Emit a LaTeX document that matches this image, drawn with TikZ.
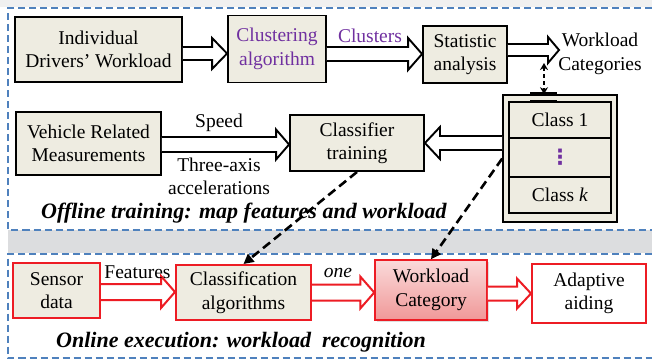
\documentclass[tikz,border=0pt]{standalone}
\usepackage{fontspec}
\setmainfont{Liberation Serif}
\newfontfamily\dejavu{DejaVu Sans}
\usetikzlibrary{calc,arrows.meta,shadows}
\definecolor{boxfill}{RGB}{238,236,225}
\definecolor{dblue}{RGB}{79,129,189}
\definecolor{myred}{RGB}{237,28,36}
\definecolor{mypurple}{RGB}{112,48,160}
\definecolor{bandgray}{RGB}{220,221,223}
\newcommand{\fatarrow}[6]{\draw[#1] let \p1=(#2), \p2=(#3) in ({\x1},{\y1+#4}) -- ({\x2-(#6)},{\y1+#4}) -- ({\x2-(#6)},{\y1+#5}) -- ({\x2},{\y1}) -- ({\x2-(#6)},{\y1-#5}) -- ({\x2-(#6)},{\y1-#4}) -- ({\x1},{\y1-#4});}
\begin{document}
\begin{tikzpicture}[x=1pt,y=-1pt,
  txt/.style={font=\fontsize{19.5}{23.5}\selectfont, inner sep=0pt},
  bbox/.style={txt, draw=black, line width=1.9pt, fill=boxfill, align=center},
  rbox/.style={txt, draw=myred, line width=2pt, align=center},
  frame/.style={draw=dblue, line width=2pt, dash pattern=on 7pt off 4pt},
  fatblack/.style={draw=black, line width=1.9pt, fill=white, line join=miter},
  fatred/.style={draw=myred, line width=2pt, fill=white, line join=miter},
  dasharrow/.style={draw=black, line width=2.6pt, dash pattern=on 9pt off 5pt, -{Triangle[length=10pt,width=10pt]}},
  title/.style={font=\fontsize{22}{26}\selectfont\bfseries\itshape, inner sep=0pt, anchor=base west}
]
\useasboundingbox (0,0) rectangle (652,360);
\fill[white] (0,0) rectangle (652,360);
\fill[gray!12] (0,0) rectangle (652,7);
% band
\fill[bandgray] (8,230) rectangle (652,253);
\draw[frame] (652,8) -- (8,8) -- (8,229.5) -- (652,229.5);
\draw[frame] (652,253.5) -- (8,253.5) -- (8,358) -- (652,358);

% top row
\node[bbox, minimum width=167pt, minimum height=65pt] (drivers) at (98.5,49.5) {Individual\\Drivers' Workload};
\node[bbox, minimum width=98pt, minimum height=67pt, text=mypurple] (clust) at (277,49) {Clustering\\algorithm};
\node[bbox, minimum width=84pt, minimum height=57pt] (stat) at (465,54.5) {Statistic\\analysis};
\node[txt, align=center] (wc) at (600,54) {Workload\\Categories};
\coordinate (wctip) at (559,50);

% classes
\node[draw=black, line width=1.6pt, fill=boxfill, minimum width=114pt, minimum height=127pt, inner sep=0pt] (classes) at (560,158.5) {};
\node[bbox, minimum width=102pt, minimum height=36pt] (c1) at (560,120) {Class 1};
\node[bbox, minimum width=102pt, minimum height=39pt, text=mypurple, font=\dejavu\bfseries\fontsize{21}{21}\selectfont] (c2) at (560,157.5) {⋮};
\node[bbox, minimum width=102pt, minimum height=36pt] (c3) at (560,195) {Class \textit{k}};
\draw[line width=3.5pt] ([xshift=-30pt]classes.north) -- ([xshift=-3pt]classes.north);
\draw[line width=3pt] ([xshift=-30pt]c1.north) -- ([xshift=-3pt]c1.north);

% middle row
\node[bbox, minimum width=145pt, minimum height=63pt] (vehicle) at (88.5,143.5) {Vehicle Related\\Measurements};
\node[bbox, minimum width=134pt, minimum height=56pt] (classifier) at (357,143) {Classifier\\training};

% bottom row
\node[rbox, fill=boxfill, minimum width=87pt, minimum height=55pt] (sensor) at (56.5,290.5) {Sensor\\data};
\node[rbox, fill=boxfill, minimum width=135pt, minimum height=55pt] (classalg) at (243.5,292.5) {Classification\\algorithms};
\node[rbox, line width=1.5pt, top color={rgb,255:red,250;green,218;blue,218}, bottom color={rgb,255:red,240;green,152;blue,152}, drop shadow={opacity=0.25, shadow xshift=2pt, shadow yshift=-2pt}, minimum width=112pt, minimum height=60pt] (wcat) at (431,290) {Workload\\Category};
\node[rbox, fill=white, minimum width=114pt, minimum height=59pt] (adapt) at (589,293.5) {Adaptive\\aiding};

% fat arrows
\fatarrow{fatblack}{$(drivers.east)+(0,4)$}{clust.west}{6.5pt}{15.5pt}{15pt}
\fatarrow{fatblack}{$(clust.east)+(0,5)$}{stat.west}{7pt}{16pt}{14pt}
\fatarrow{fatblack}{$(stat.east)+(0,-4.5)$}{wctip}{6pt}{13pt}{11pt}
\fatarrow{fatblack}{$(vehicle.east)+(0,1)$}{classifier.west}{7.5pt}{15pt}{13pt}
\fatarrow{fatblack}{classes.west |- classifier.east}{classifier.east}{7pt}{16pt}{-15pt}
\fatarrow{fatred}{$(sensor.east)+(0,1.5)$}{classalg.west}{8pt}{16pt}{14pt}
\fatarrow{fatred}{classalg.east}{wcat.west}{8pt}{16pt}{14pt}
\fatarrow{fatred}{$(wcat.east)+(0,3.5)$}{adapt.west}{7pt}{15pt}{14pt}

% labels
\node[txt, text=mypurple, anchor=base] (lclus) at (370,42) {Clusters};
\node[txt, anchor=base] (lspeed) at (219,127) {Speed};
\node[txt, align=center] (laxis) at (219,176.5) {Three-axis\\accelerations};
\node[txt, anchor=base] (lfeat) at (137.5,278) {Features};
\node[txt, anchor=base, font=\fontsize{19.5}{23.5}\selectfont\itshape] (lone) at (338,277) {one};
\node[title] (toff) at (41,218) {Offline training: map features and workload};
\node[title] (ton) at (56,347) {Online execution: workload\ \ recognition};

% dashed connectors
\draw[dasharrow] (classifier.south) -- (classalg.north);
\draw[dasharrow] (classes.west) -- (wcat.north);
\coordinate (vtop) at (544,63);
\draw[line width=1.8pt, dash pattern=on 4pt off 3pt, {Stealth[length=7pt,width=8pt]}-{Stealth[length=7pt,width=8pt]}] (vtop) -- (vtop |- classes.north);
\end{tikzpicture}
\end{document}
